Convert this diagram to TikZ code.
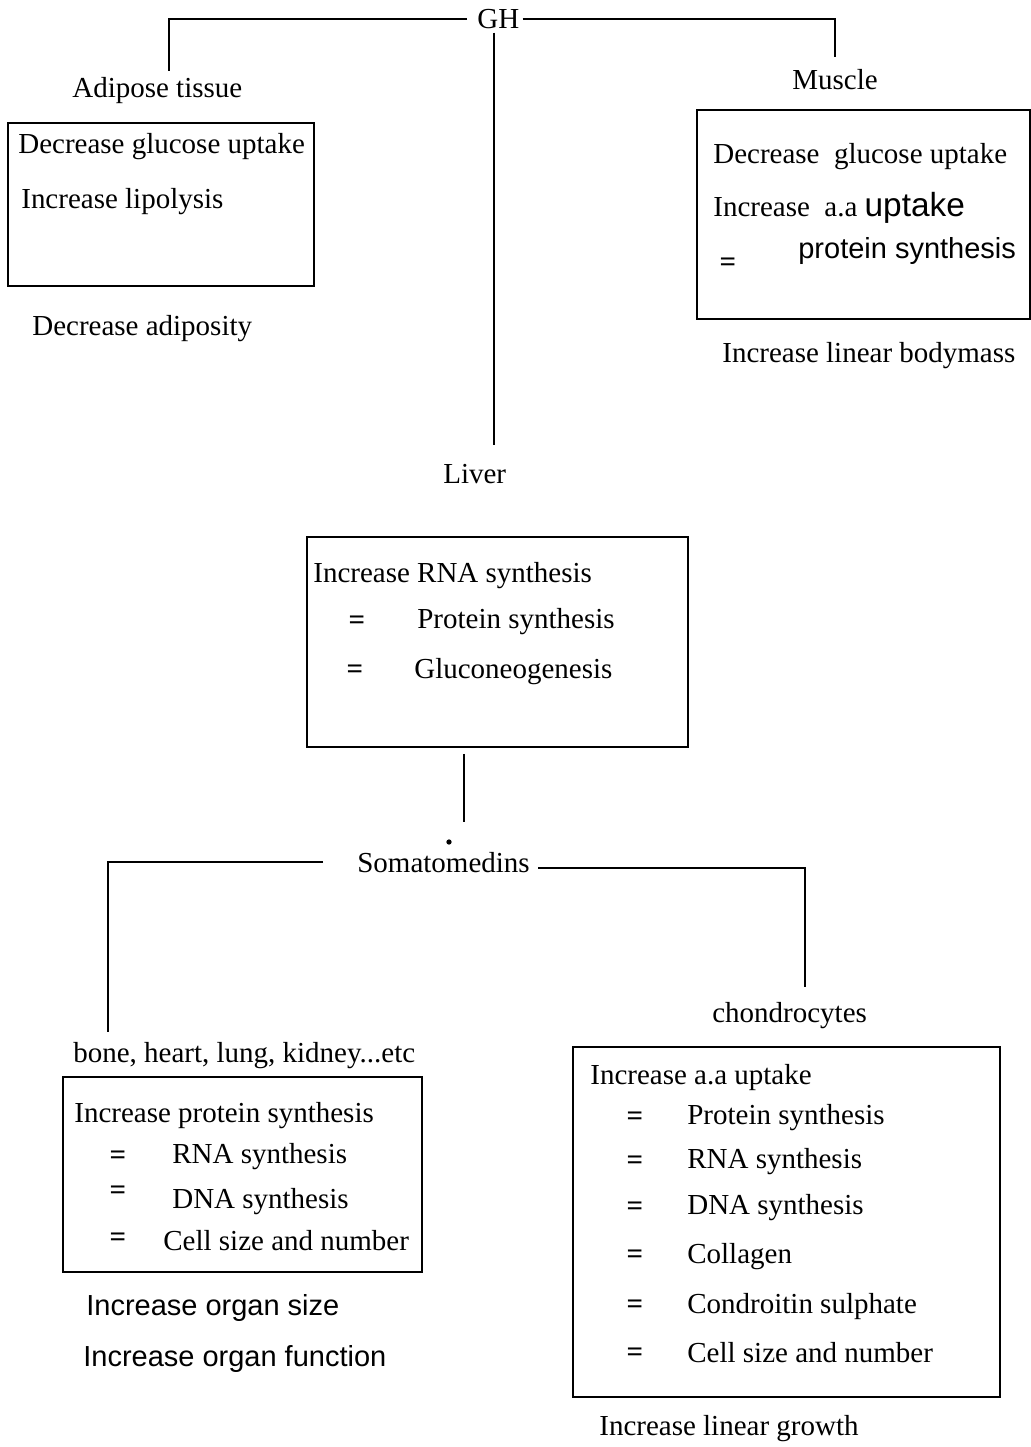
\documentclass[tikz,border=0pt]{standalone}
\usepackage{fontspec}
\setmainfont{Liberation Serif}
\newfontfamily\plainsans{Liberation Sans}
\usetikzlibrary{positioning}

\tikzset{
  txt/.style={inner sep=0pt, font=\fontsize{16.5}{20}\selectfont},
  row/.style={txt, anchor=base west},
  srow/.style={row, font=\plainsans\fontsize{16.5}{20}\selectfont},
  eqs/.style={txt, font=\bfseries\fontsize{16.5}{20}\selectfont, yshift=-0.05cm},
  panel/.style={draw, line width=1.1pt, inner sep=0pt},
  link/.style={line width=1.1pt}
}

\begin{document}
\begin{tikzpicture}[x=0.02cm,y=-0.02cm]
  \useasboundingbox (0,0) rectangle (1031,1447);

  \node[row] (gh) at (477,28) {GH};
  \node[row] (adipose) at (72,97) {Adipose tissue};
  \node[row] (muscle) at (792,89) {Muscle};
  \node[row] (liver) at (443,483) {Liver};

  \draw[link, shorten <=0.2cm, shorten >=0.12cm] (gh.west) -| ([xshift=0.23cm]adipose.north);
  \draw[link, shorten <=0.06cm, shorten >=0.24cm] (gh.east) -| (muscle.north);
  \draw[link, shorten <=0.08cm, shorten >=0.36cm] ([xshift=-0.08cm]gh.south) -- ([xshift=-0.08cm]gh.south |- liver.north);

  \node[panel, minimum width=6.12cm, minimum height=3.26cm] (adbox) at (161,204.5) {};
  \node[row] (ad1) at (18,153) {Decrease glucose uptake};
  \node[row] (ad2) at (21,208) {Increase lipolysis};
  \node[row] (adout) at (32,335) {Decrease adiposity};

  \node[panel, minimum width=6.66cm, minimum height=4.18cm] (mubox) at (863.5,214.5) {};
  \node[row] (mu1) at (713,163) {Decrease\ \ glucose uptake};
  \node[row] (mu2) at (713,216) {Increase\ \ a.a {\plainsans\fontsize{19}{22}\selectfont uptake}};
  \node[eqs] (mueq) at (728,262) {=};
  \node[srow] (mu3) at (798,258) {protein synthesis};
  \node[row] (muout) at (722,362) {Increase linear bodymass};

  \node[panel, minimum width=7.62cm, minimum height=4.2cm] (livbox) at (497.5,642) {};
  \node[row] (lv1) at (313,582) {Increase RNA synthesis};
  \node[eqs] (lveq1) at (357,620) {=};
  \node[row] (lv2) at (417,628) {Protein synthesis};
  \node[eqs] (lveq2) at (355,669) {=};
  \node[row] (lv3) at (414,678) {Gluconeogenesis};

  \node[row] (soma) at (357,872) {Somatomedins};
  \node[circle, fill, inner sep=0pt, minimum size=3pt] (dot) at (449,842) {};
  \draw[link, shorten <=0.12cm, shorten >=0.6cm] ([xshift=-0.67cm]livbox.south) -- ([xshift=-0.67cm]livbox.south |- soma.north);

  \node[row] (bone) at (73,1062) {bone, heart, lung, kidney...etc};
  \node[row] (chondro) at (712,1022) {chondrocytes};

  \draw[link, shorten <=0.68cm, shorten >=0.2cm] (soma.west) -| ([xshift=-2.72cm]bone.north);
  \draw[link, shorten <=0.16cm, shorten >=0.3cm] ([yshift=-0.12cm]soma.east) -| ([xshift=0.31cm]chondro.north);

  \node[panel, minimum width=7.18cm, minimum height=3.9cm] (bnbox) at (242.5,1174.5) {};
  \node[row] (bn1) at (74,1122) {Increase protein synthesis};
  \node[eqs] (bneq1) at (118,1155) {=};
  \node[row] (bn2) at (172,1163) {RNA synthesis};
  \node[eqs] (bneq2) at (118,1190) {=};
  \node[row] (bn3) at (172,1208) {DNA synthesis};
  \node[eqs] (bneq3) at (118,1237) {=};
  \node[row] (bn4) at (163,1250) {Cell size and number};
  \node[srow] (bnout1) at (86,1315) {Increase organ size};
  \node[srow] (bnout2) at (83,1366) {Increase organ function};

  \node[panel, minimum width=8.54cm, minimum height=7.0cm] (chbox) at (786.5,1222) {};
  \node[row] (ch1) at (590,1084) {Increase a.a uptake};
  \node[eqs] (cheq1) at (635,1116) {=};
  \node[row] (ch2) at (687,1124) {Protein synthesis};
  \node[eqs] (cheq2) at (635,1160) {=};
  \node[row] (ch3) at (687,1168) {RNA synthesis};
  \node[eqs] (cheq3) at (635,1206) {=};
  \node[row] (ch4) at (687,1214) {DNA synthesis};
  \node[eqs] (cheq4) at (635,1254) {=};
  \node[row] (ch5) at (687,1263) {Collagen};
  \node[eqs] (cheq5) at (635,1304) {=};
  \node[row] (ch6) at (687,1313) {Condroitin sulphate};
  \node[eqs] (cheq6) at (635,1352) {=};
  \node[row] (ch7) at (687,1362) {Cell size and number};
  \node[row] (chout) at (599,1435) {Increase linear growth};
\end{tikzpicture}
\end{document}
